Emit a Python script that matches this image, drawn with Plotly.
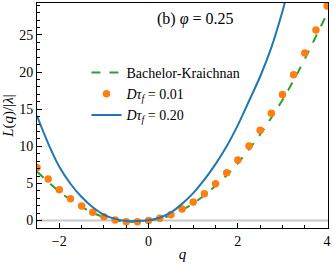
import plotly.graph_objects as go

# q grid for the simulated points (step 0.25)
q_dots = [-2.5, -2.25, -2.0, -1.75, -1.5, -1.25, -1.0, -0.75, -0.5, -0.25, 0.0,
          0.25, 0.5, 0.75, 1.0, 1.25, 1.5, 1.75, 2.0, 2.25, 2.5, 2.75, 3.0,
          3.25, 3.5, 3.75, 4.0]
L_dt001 = [7.15, 5.6, 4.15, 2.95, 1.95, 1.12, 0.5, 0.07, -0.15, -0.15, 0.0,
           0.3, 0.8, 1.55, 2.5, 3.62, 4.95, 6.45, 8.15, 10.05, 12.15, 14.45, 16.97,
           19.65, 22.55, 25.65, 28.9]

q_bk = [-2.5, -2.25, -2.0, -1.75, -1.5, -1.25, -1.0, -0.75, -0.5, -0.25, 0.0,
        0.25, 0.5, 0.75, 1.0, 1.25, 1.5, 1.75, 2.0, 2.25, 2.5, 2.75, 3.0,
        3.25, 3.5, 3.75, 4.02]
L_bk = [6.6, 5.2, 3.9, 2.8, 1.85, 1.05, 0.45, 0.05, -0.15, -0.15, 0.0,
        0.25, 0.72, 1.42, 2.3, 3.4, 4.68, 6.1, 7.72, 9.58, 11.6, 13.85, 16.25,
        18.9, 21.75, 24.8, 28.1]

q_dt020 = [-2.5, -2.25, -2.0, -1.75, -1.5, -1.25, -1.0, -0.75, -0.5, -0.25, 0.0,
           0.25, 0.5, 0.75, 1.0, 1.25, 1.5, 1.75, 2.0, 2.25, 2.5, 2.75, 3.0, 3.25]
L_dt020 = [14.1, 10.4, 7.24, 4.96, 3.17, 1.79, 0.78, 0.23, -0.05, -0.07, 0.05,
           0.38, 1.1, 2.25, 3.7, 5.5, 7.6, 10.0, 12.85, 16.1, 19.4, 23.3, 28.2, 33.8]

x_ticks = [-2, 0, 2, 4]
y_ticks = [0, 5, 10, 15, 20, 25]

FONT = "Liberation Serif"

fig = go.Figure()
fig.add_trace(go.Scatter(
    x=q_bk, y=L_bk, mode="lines", name="Bachelor-Kraichnan",
    line=dict(color="#2ca02c", width=2, dash="dash", shape="spline")))
fig.add_trace(go.Scatter(
    x=q_dots, y=L_dt001, mode="markers", name="<i>Dτ</i><sub><i>f</i></sub> = 0.01",
    marker=dict(color="#ff7f0e", size=7.5)))
fig.add_trace(go.Scatter(
    x=q_dt020, y=L_dt020, mode="lines", name="<i>Dτ</i><sub><i>f</i></sub> = 0.20",
    line=dict(color="#1f77b4", width=2, shape="spline")))

fig.add_shape(type="line", xref="paper", x0=0, x1=1, yref="y", y0=0, y1=0,
              line=dict(color="#c8c8c8", width=2), layer="below")

fig.add_annotation(text="(b) <i>φ</i> = 0.25", xref="paper", yref="paper",
                   x=0.405, y=0.93, xanchor="left", yanchor="middle",
                   showarrow=False, font=dict(family=FONT, size=16, color="black"))

axis_common = dict(showline=True, linecolor="black", linewidth=1, mirror=True,
                   ticks="inside", ticklen=5, tickcolor="black", showgrid=False,
                   zeroline=False, tickfont=dict(family=FONT, size=14, color="black"))

fig.update_xaxes(range=[-2.5, 4.02], tickvals=x_ticks,
                 minor=dict(dtick=0.5, ticks="inside", ticklen=3, tickcolor="black"),
                 title=dict(text="<i>q</i>", font=dict(family=FONT, size=15, color="black"),
                            standoff=0),
                 **axis_common)
fig.update_yaxes(range=[-1.0, 29.3], tickvals=y_ticks,
                 minor=dict(dtick=1, ticks="inside", ticklen=3, tickcolor="black"),
                 title=dict(text="<i>L</i>(<i>q</i>)/|<i>λ</i>|",
                            font=dict(family=FONT, size=15, color="black"), standoff=2),
                 **axis_common)

fig.update_layout(
    width=333, height=266,
    margin=dict(l=37, r=3, t=2, b=38),
    plot_bgcolor="white", paper_bgcolor="white",
    font=dict(family=FONT, size=14, color="black"),
    legend=dict(x=0.17, y=0.76, xanchor="left", yanchor="top",
                bgcolor="rgba(0,0,0,0)", font=dict(family=FONT, size=14),
                tracegroupgap=0),
)

fig.write_html("out.html", config={"displayModeBar": False},
               post_script="document.body.style.margin='0';document.body.style.overflow='hidden';")
